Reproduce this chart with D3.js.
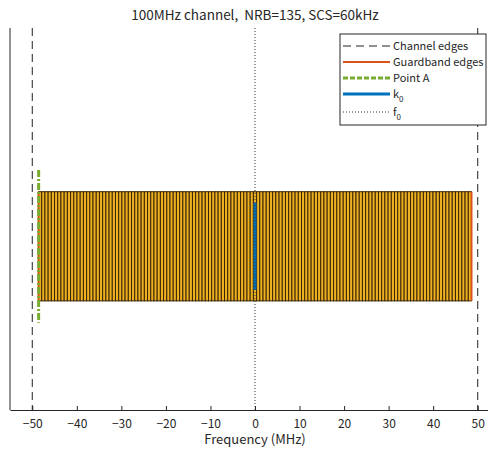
<!DOCTYPE html>
<html>
<head>
<meta charset="utf-8">
<script src="https://cdn.jsdelivr.net/npm/d3@7"></script>
<style>
  body { margin: 0; background: #fff; }
  svg text { font-family: "Noto Sans CJK JP", "DejaVu Sans", sans-serif; fill: #262626; }
</style>
</head>
<body>
<div id="chart"></div>
<script>
// Chart values
var bandwidthMHz = 100;
var nRB = 135;
var scsKHz = 60;
var xTicks = [-50, -40, -30, -20, -10, 0, 10, 20, 30, 40, 50];
var channelEdges = [-50, 50];
var guardbandEdges = [-48.6, 48.6];
var pointA = -48.57;
var k0 = 0;
var f0 = 0;
var legendLabels = ["Channel edges", "Guardband edges", "Point A", "k", "f"];

var margin = { top: 28, right: -12, bottom: 39, left: 10 };
var width = 488 - margin.left - margin.right,
    height = 449 - margin.top - margin.bottom;

var svg = d3.select("#chart").append("svg")
    .attr("width", 488)
    .attr("height", 449);

var g = svg.append("g")
    .attr("transform", "translate(" + margin.left + "," + margin.top + ")");

var x = d3.scaleLinear().domain([-55, 55]).range([0, width]);
var y = d3.scaleLinear().domain([-1.5, 2]).range([height, 0]);

// Resource blocks
var rbWidth = 12 * scsKHz / 1000;
var rbStart = -nRB * rbWidth / 2;
g.selectAll(".rb")
    .data(d3.range(nRB))
    .enter().append("rect")
    .attr("class", "rb")
    .attr("x", function(i) { return x(rbStart + i * rbWidth); })
    .attr("width", x(rbWidth) - x(0))
    .attr("y", y(0.5))
    .attr("height", y(-0.5) - y(0.5))
    .attr("fill", "#EDB120")
    .attr("stroke", "#3a2408")
    .attr("stroke-width", 1);

// Channel edges
g.selectAll(".chan")
    .data(channelEdges)
    .enter().append("line")
    .attr("x1", function(d) { return x(d); })
    .attr("x2", function(d) { return x(d); })
    .attr("y1", y(2)).attr("y2", y(-1.5))
    .attr("stroke", "#222").attr("stroke-width", 1)
    .attr("stroke-dasharray", "8,5");

// Guardband edges
g.selectAll(".guard")
    .data(guardbandEdges)
    .enter().append("line")
    .attr("x1", function(d) { return x(d); })
    .attr("x2", function(d) { return x(d); })
    .attr("y1", y(0.5)).attr("y2", y(-0.5))
    .attr("stroke", "#D95319").attr("stroke-width", 2);

// Point A
g.append("line")
    .attr("x1", x(pointA)).attr("x2", x(pointA))
    .attr("y1", y(0.7)).attr("y2", y(-0.7))
    .attr("stroke", "#77AC30").attr("stroke-width", 3)
    .attr("stroke-dasharray", "7,2,2,2");

// k0
g.append("line")
    .attr("x1", x(k0)).attr("x2", x(k0))
    .attr("y1", y(0.4)).attr("y2", y(-0.4))
    .attr("stroke", "#0072BD").attr("stroke-width", 3);

// f0
g.append("line")
    .attr("x1", x(f0)).attr("x2", x(f0))
    .attr("y1", y(2)).attr("y2", y(-1.5))
    .attr("stroke", "#333").attr("stroke-width", 1)
    .attr("stroke-dasharray", "1,2");

// Axes
var xAxis = d3.axisBottom(x).tickValues(xTicks).tickSizeInner(-4).tickSizeOuter(0).tickPadding(9);
var ax = g.append("g")
    .attr("transform", "translate(0," + height + ")")
    .call(xAxis);
ax.select(".domain").attr("stroke", "#262626");
ax.selectAll(".tick line").attr("stroke", "#262626");
ax.selectAll(".tick text").attr("font-size", 12).attr("fill", "#333")
    .text(function(d) { return d < 0 ? "\u2212" + Math.abs(d) : d; });

g.append("line")
    .attr("x1", 0).attr("x2", 0)
    .attr("y1", 0).attr("y2", height)
    .attr("stroke", "#262626");

// Title and label
svg.append("text")
    .attr("x", 255).attr("y", 20)
    .attr("text-anchor", "middle")
    .attr("font-size", 13.5)
    .attr("xml:space", "preserve")
    .text(bandwidthMHz + "MHz channel,  NRB=" + nRB + ", SCS=" + scsKHz + "kHz");

svg.append("text")
    .attr("x", 255).attr("y", 444)
    .attr("text-anchor", "middle")
    .attr("font-size", 13)
    .text("Frequency (MHz)");

// Legend
var legend = svg.append("g").attr("transform", "translate(340,34)");
legend.append("rect")
    .attr("width", 146).attr("height", 91)
    .attr("fill", "#fff").attr("stroke", "#262626").attr("stroke-width", 1);

var legendStyles = [
    { color: "#222", width: 1, dash: "8,5" },
    { color: "#D95319", width: 2, dash: null },
    { color: "#77AC30", width: 3, dash: "5,2" },
    { color: "#0072BD", width: 3, dash: null },
    { color: "#333", width: 1, dash: "1,2" }
];
var legendY = [12, 28, 44, 60, 78];

legendLabels.forEach(function(label, i) {
    var s = legendStyles[i];
    legend.append("line")
        .attr("x1", 3).attr("x2", 50)
        .attr("y1", legendY[i]).attr("y2", legendY[i])
        .attr("stroke", s.color).attr("stroke-width", s.width)
        .attr("stroke-dasharray", s.dash);
    var t = legend.append("text")
        .attr("x", 53).attr("y", legendY[i] + 4)
        .attr("font-size", 11)
        .text(label);
    if (i === 3 || i === 4) {
        t.append("tspan").attr("dy", 4).attr("font-size", 8).text("0");
    }
});
</script>
</body>
</html>
